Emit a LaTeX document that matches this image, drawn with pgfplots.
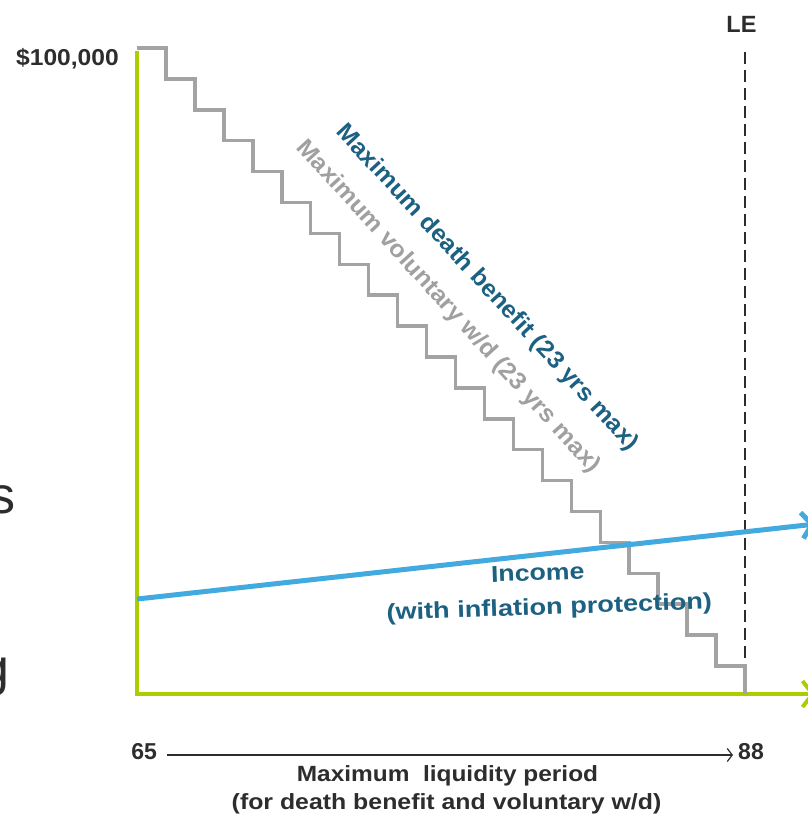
\documentclass[border=0pt]{standalone}
\usepackage{pgfplots}
\pgfplotsset{compat=1.18}
\usepackage{fontspec}
\setmainfont{Liberation Sans}
\usetikzlibrary{arrows.meta}
\definecolor{cLime}{RGB}{170,206,0}
\definecolor{cStair}{RGB}{163,163,163}
\definecolor{cSky}{RGB}{66,170,222}
\definecolor{cTeal}{RGB}{28,96,130}
\definecolor{cDark}{RGB}{45,45,45}
\definecolor{cGrayTxt}{RGB}{160,160,160}
\newcommand\fs[1]{\fontsize{#1}{#1}\selectfont}

\begin{document}
\begin{tikzpicture}
\begin{axis}[name=ax, at={(0,0)}, anchor=south west, scale only axis,
  width=808pt, height=817pt,
  xmin=59.817, xmax=90.383, ymin=-19040, ymax=107430,
  hide axis, clip=false]
% green axes
\draw[cLime, line width=4pt, line join=miter, -{Straight Barb[length=10pt,width=26pt]}]
  (axis cs:65,99500) -- (axis cs:65,0) -- (axis cs:90.65,0);
% LE dashed line
\draw[cDark, line width=1.2pt, dash pattern=on 12pt off 6pt] (axis cs:88,0) -- (axis cs:88,99600);
% staircase
\addplot[const plot, cStair, line width=3.5pt, line join=miter] coordinates {
(65,100000) (66.095,95217) (67.190,90433) (68.286,85650) (69.381,80867)
(70.476,76084) (71.571,71300) (72.667,66517) (73.762,61734) (74.857,56950)
(75.952,52167) (77.048,47384) (78.143,42600) (79.238,37817) (80.333,33034)
(81.429,28251) (82.524,23467) (83.619,18684) (84.714,13901) (85.810,9117)
(86.905,4334) (88,0)};
% income line
\addplot[cSky, line width=5pt, -{Straight Barb[length=10pt,width=26pt]}] coordinates {(65,14700) (90.65,26300)};
\end{axis}
\begin{scope}[shift={(ax.north west)}, x=1pt, y=-1pt]
\node[anchor=base east, inner sep=0, text=cDark, font=\fs{23}\bfseries] at (119,65.5) {\scalebox{1.07}[1]{\$100,000}};
\node[anchor=base, inner sep=0, text=cDark, font=\fs{23.5}\bfseries] at (741.5,33) {LE};
\node[anchor=base, inner sep=0, text=cDark, font=\fs{23}\bfseries] at (144.2,760) {65};
\node[anchor=base, inner sep=0, text=cDark, font=\fs{23}\bfseries] at (751,760) {88};
\draw[cDark, line width=1.2pt, -{Straight Barb[length=5pt,width=13pt]}] (167,755) -- (733,755);
\node[anchor=base, inner sep=0, text=cDark, font=\fs{22}\bfseries] at (447.5,782) {\scalebox{1.11}[1]{Maximum\ \ liquidity period}};
\node[anchor=base, inner sep=0, text=cDark, font=\fs{22}\bfseries] at (446.5,810) {\scalebox{1.13}[1]{(for death benefit and voluntary w/d)}};
\node[inner sep=0, rotate=-47.3, text=cTeal, font=\fs{24}\bfseries] at (487,288) {\scalebox{1.05}[1]{Maximum death benefit (23 yrs max)}};
\node[inner sep=0, rotate=-47.8, text=cGrayTxt, font=\fs{24}\bfseries] at (448,307) {\scalebox{1.05}[1]{Maximum voluntary w/d (23 yrs max)}};
\node[anchor=base, inner sep=0, rotate=2, text=cTeal, font=\fs{23}\bfseries] at (538,580.5) {\scalebox{1.16}[1]{Income}};
\node[anchor=base, inner sep=0, rotate=2, text=cTeal, font=\fs{23}\bfseries] at (549.5,614.5) {\scalebox{1.18}[1]{(with inflation protection)}};
\node[anchor=base east, inner sep=0, text=cDark, font=\fs{52}] at (16,514) {s};
\node[anchor=base east, inner sep=0, text=cDark, font=\fs{52}] at (10,686) {g};
\end{scope}
\pgfresetboundingbox
\path[use as bounding box] (ax.south west) rectangle (ax.north east);
\end{tikzpicture}
\end{document}
